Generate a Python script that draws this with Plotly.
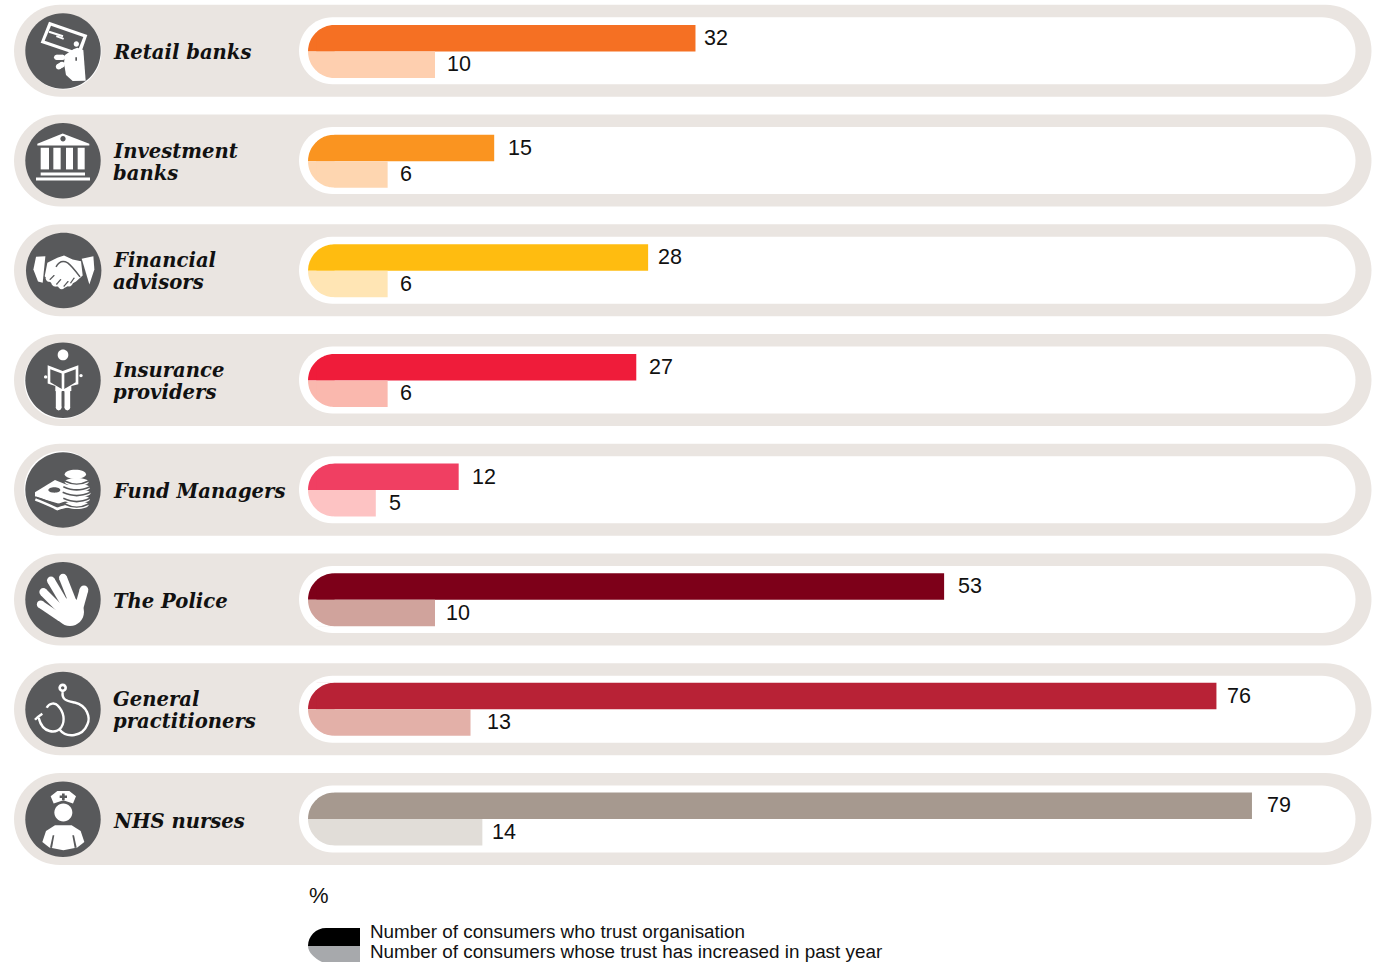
import math
import re
import plotly.graph_objects as go

W, H = 1375, 962

# Survey results, one entry per organisation type
categories = ["Retail banks", "Investment banks", "Financial advisors", "Insurance providers",
              "Fund Managers", "The Police", "General practitioners", "NHS nurses"]
name_lines = [["Retail banks"], ["Investment", "banks"], ["Financial", "advisors"],
              ["Insurance", "providers"], ["Fund Managers"], ["The Police"],
              ["General", "practitioners"], ["NHS nurses"]]
trust_values = [32, 15, 28, 27, 12, 53, 76, 79]
increase_values = [10, 6, 6, 6, 5, 10, 13, 14]
trust_colors = ["#F57023", "#FA9420", "#FFBC10", "#EF1C3A", "#F03F62", "#7D0019", "#B82236", "#A6998F"]
increase_colors = ["#FECFAF", "#FED6B0", "#FFE5B4", "#FAB8AE", "#FDC3C3", "#D0A39C", "#E3B0A8", "#E1DDD8"]
legend_labels = ["Number of consumers who trust organisation",
                 "Number of consumers whose trust has increased in past year"]

# Layout constants, in page pixels
ROW_TOP, ROW_PITCH = 50.8, 109.75
BAR_TOP, BAR_PITCH = 51.5, 109.64
ZERO_PX, UNIT_PX = 316.6, 11.84
BAR_THICK = 26.5
CAP_X0, CAP_X1 = 308.0, 334.5
PANEL_GREY, ICON_GREY = "#EAE5E1", "#58595B"
INK = "#111111"
trust_label_shift = [6.5, 11.8, 8.0, 10.7, 11.8, 11.4, 8.1, 13.5]
increase_label_shift = [9.5, 10.4, 10.4, 10.4, 11.0, 8.5, 14.5, 8.0]

rows = [ROW_TOP + i * ROW_PITCH for i in range(len(categories))]
bar_rows = [BAR_TOP + i * BAR_PITCH for i in range(len(categories))]
shapes, annotations = [], []


def to_paper(d):
    """Turn a path written in page pixels into paper coordinates."""
    out, pair = [], []
    for tok in re.findall(r"[MLCQZ]|-?\d+\.?\d*", d):
        if tok in "MLCQZ":
            out.append(tok)
        else:
            pair.append(float(tok))
            if len(pair) == 2:
                out.append(f"{pair[0] / W:.5f},{1 - pair[1] / H:.5f}")
                pair = []
    return " ".join(out)


def add_path(d, fill=None, line=None, width=0, layer="below"):
    shapes.append(dict(type="path", path=to_paper(d), xref="paper", yref="paper", layer=layer,
                       fillcolor=fill if fill else "rgba(0,0,0,0)",
                       line=dict(color=line if line else "rgba(0,0,0,0)", width=width)))


def rounded(x0, y0, x1, y1, r):
    k = r * 0.5523
    return (f"M {x0 + r} {y0} L {x1 - r} {y0} C {x1 - r + k} {y0} {x1} {y0 + r - k} {x1} {y0 + r} "
            f"L {x1} {y1 - r} C {x1} {y1 - r + k} {x1 - r + k} {y1} {x1 - r} {y1} "
            f"L {x0 + r} {y1} C {x0 + r - k} {y1} {x0} {y1 - r + k} {x0} {y1 - r} "
            f"L {x0} {y0 + r} C {x0} {y0 + r - k} {x0 + r - k} {y0} {x0 + r} {y0} Z")


def ellipse(cx, cy, rx, ry=None):
    ry = rx if ry is None else ry
    kx, ky = rx * 0.5523, ry * 0.5523
    return (f"M {cx - rx} {cy} C {cx - rx} {cy - ky} {cx - kx} {cy - ry} {cx} {cy - ry} "
            f"C {cx + kx} {cy - ry} {cx + rx} {cy - ky} {cx + rx} {cy} "
            f"C {cx + rx} {cy + ky} {cx + kx} {cy + ry} {cx} {cy + ry} "
            f"C {cx - kx} {cy + ry} {cx - rx} {cy + ky} {cx - rx} {cy} Z")


def corner_mask(mid, sign):
    """White wedge that trims a square bar corner back to the round cap."""
    r = CAP_X1 - CAP_X0
    inner = ZERO_PX - 0.6
    stop = math.acos((CAP_X1 - inner) / r)
    pts = [(inner, mid + sign * (r + 0.6)), (CAP_X1, mid + sign * (r + 0.6)), (CAP_X1, mid + sign * r)]
    for n in range(1, 17):
        a = math.pi / 2 - (math.pi / 2 - stop) * n / 16
        pts.append((CAP_X1 - r * math.cos(a), mid + sign * r * math.sin(a)))
    add_path("M " + " L ".join(f"{x:.2f} {y:.2f}" for x, y in pts) + " Z", fill="white", layer="above")


class Icon:
    """Glyph drawing in a 3x grid, placed on a page-pixel centre."""

    def __init__(self, cx, cy, ox, oy):
        self.cx, self.cy, self.ox, self.oy = cx, cy, ox, oy

    def pt(self, x, y):
        return self.cx + (x - self.ox) / 3, self.cy + (y - self.oy) / 3

    def poly(self, pts, fill="white"):
        p = [self.pt(*q) for q in pts]
        add_path("M " + " L ".join(f"{a:.2f} {b:.2f}" for a, b in p) + " Z", fill=fill, layer="above")

    def dot(self, x, y, rx, ry=None, fill="white"):
        a, b = self.pt(x, y)
        add_path(ellipse(a, b, rx / 3, None if ry is None else ry / 3), fill=fill, layer="above")

    def capsule(self, p, q, w, fill="white"):
        (x0, y0), (x1, y1) = p, q
        dx, dy = x1 - x0, y1 - y0
        n = (dx * dx + dy * dy) ** 0.5
        nx, ny = -dy / n * w / 2, dx / n * w / 2
        self.poly([(x0 + nx, y0 + ny), (x1 + nx, y1 + ny), (x1 - nx, y1 - ny), (x0 - nx, y0 - ny)], fill)
        self.dot(x0, y0, w / 2, fill=fill)
        self.dot(x1, y1, w / 2, fill=fill)

    def curve(self, nums, w=2.4, colour="white"):
        # nums: start point then cubic segments, each three points
        p = [self.pt(nums[i], nums[i + 1]) for i in range(0, len(nums), 2)]
        d = f"M {p[0][0]:.2f} {p[0][1]:.2f}"
        for i in range(1, len(p), 3):
            d += " C " + " ".join(f"{a:.2f} {b:.2f}" for a, b in p[i:i + 3])
        add_path(d, line=colour, width=w, layer="above")


def draw_card_hand(g):
    g.poly([(147, 65), (262, 105), (240, 168), (122, 128)])
    g.poly([(153, 77), (250, 111), (232, 156), (134, 122)], ICON_GREY)
    g.poly([(148, 92), (190, 106), (188, 112), (146, 98)])
    g.poly([(170, 106), (192, 114), (190, 119), (168, 111)])
    g.dot(229, 132, 8)
    g.poly([(195, 165), (220, 148), (232, 143), (250, 150), (257, 242), (218, 243), (198, 225), (192, 190)])
    g.poly([(226, 172), (231, 172), (231, 182), (226, 182)], ICON_GREY)
    g.capsule((170, 172), (188, 172), 16)
    g.capsule((176, 200), (186, 194), 17)


def draw_bank(g):
    g.poly([(112, 431), (188, 400), (268, 431), (268, 436), (112, 436)])
    g.dot(189, 416, 8, fill=ICON_GREY)
    for x0, x1 in [(122, 147), (160, 182), (198, 219), (233, 254)]:
        g.poly([(x0, 443), (x1, 443), (x1, 508), (x0, 508)])
    g.poly([(122, 517), (255, 517), (255, 526), (122, 526)])
    g.poly([(108, 532), (270, 532), (270, 541), (108, 541)])


def draw_handshake(g):
    g.poly([(100, 150), (108, 112), (136, 110), (128, 190), (114, 186)])
    g.poly([(245, 118), (280, 110), (283, 150), (268, 195)])
    g.poly([(142, 130), (172, 115), (192, 108), (218, 120), (243, 125), (248, 168), (228, 186), (196, 204),
            (165, 200), (146, 184), (134, 170)])
    for x, y in [(148, 176), (165, 190), (185, 198), (207, 190)]:
        g.dot(x, y, 11)
    # creases between thumb and fingers
    g.curve([168, 142, 178, 124, 192, 124, 203, 130, 214, 138, 228, 156, 240, 172], w=1.5, colour=ICON_GREY)
    for p, q in [((150, 180), (162, 168)), ((170, 194), (182, 180)), ((192, 200), (204, 186)), ((212, 190), (222, 176))]:
        g.capsule(p, q, 3.5, ICON_GREY)


def draw_reader(g):
    g.dot(189, 404, 16)
    g.poly([(143, 435), (188, 452), (235, 435), (235, 492), (214, 497), (214, 512), (166, 512), (166, 497), (143, 490)])
    g.poly([(151, 447), (185, 460), (185, 506), (151, 486)], ICON_GREY)
    g.poly([(227, 447), (193, 460), (193, 506), (227, 486)], ICON_GREY)
    g.capsule((176, 512), (176, 562), 17)
    g.capsule((202, 512), (202, 562), 17)
    g.dot(137, 470, 5)
    g.dot(243, 466, 5)


def draw_money(g):
    g.poly([(105, 157), (165, 120), (215, 140), (215, 178), (180, 192), (105, 170)])
    g.dot(163, 150, 18, 8, fill=ICON_GREY)
    g.curve([105, 172, 130, 180, 150, 188, 172, 196, 190, 188, 200, 186, 215, 182], w=2.2, colour=ICON_GREY)
    g.curve([106, 178, 130, 188, 150, 196, 172, 207, 190, 200, 205, 196, 225, 198], w=2.6)
    for y, rx in [(195, 36), (178, 40), (160, 42), (143, 40), (126, 36)]:
        g.dot(230, y, rx, 12)
        g.curve([230 - rx, y - 3, 220, y + 10, 240, y + 10, 230 + rx, y - 3], w=1.6, colour=ICON_GREY)
    g.dot(226, 103, 32, 14)


def draw_palm(g):
    g.capsule((122, 492), (182, 532), 23)
    g.capsule((130, 455), (190, 515), 24)
    g.capsule((153, 420), (200, 500), 24)
    g.capsule((189, 412), (222, 495), 24)
    g.capsule((252, 448), (232, 520), 26)
    g.dot(210, 515, 42)


def draw_stethoscope(g):
    g.dot(188, 742, 13)
    g.dot(188, 742, 5, fill=ICON_GREY)
    g.curve([188, 755, 184, 780, 205, 782, 224, 786, 262, 795, 272, 832, 262, 852, 248, 888, 200, 895, 178, 866])
    g.curve([140, 802, 148, 786, 166, 786, 174, 796, 192, 814, 196, 842, 184, 860, 168, 880, 128, 880, 116, 832])
    g.curve([105, 838, 110, 832, 118, 826, 127, 820])


def draw_nurse(g):
    g.poly([(152, 1068), (172, 1052), (208, 1052), (228, 1068), (219, 1090), (190, 1080), (161, 1090)])
    g.poly([(186, 1060), (194, 1060), (194, 1066), (201, 1066), (201, 1073), (194, 1073), (194, 1079), (186, 1079),
            (186, 1073), (179, 1073), (179, 1066), (186, 1066)], ICON_GREY)
    g.dot(190, 1117, 27)
    g.poly([(127, 1205), (138, 1172), (165, 1155), (215, 1155), (242, 1172), (253, 1205), (232, 1222), (190, 1230),
            (148, 1222)])
    g.poly([(158, 1185), (163, 1185), (156, 1223), (150, 1222)], ICON_GREY)
    g.poly([(222, 1185), (217, 1185), (224, 1223), (230, 1222)], ICON_GREY)


icon_specs = [
    (draw_card_hand, 189, 153, (0.7, 0.7)), (draw_bank, 189, 482, None), (draw_handshake, 191, 153, None),
    (draw_reader, 189, 480, (-0.9, 1.0)), (draw_money, 189, 150, (-1.0, -1.2)), (draw_palm, 189, 478, None),
    (draw_stethoscope, 189, 807, None), (draw_nurse, 189, 1137, None),
]

for i, c in enumerate(rows):
    # Grey pill with its white track
    add_path(rounded(14, c - 46, 1371.5, c + 46, 46), fill=PANEL_GREY)
    add_path(rounded(299, c - 33.5, 1355.5, c + 33.5, 33.5), fill="white")

    # Rounded start of the two stacked bars: fill underneath, white corners on top
    mid = bar_rows[i]
    r = CAP_X1 - CAP_X0
    k = r * 0.5523
    top, bot = mid - r, mid + r
    add_path(f"M {CAP_X1} {top} C {CAP_X1 - k} {top} {CAP_X0} {mid - k} {CAP_X0} {mid} L {CAP_X1} {mid} Z",
             fill=trust_colors[i])
    add_path(f"M {CAP_X1} {bot} C {CAP_X1 - k} {bot} {CAP_X0} {mid + k} {CAP_X0} {mid} L {CAP_X1} {mid} Z",
             fill=increase_colors[i])
    corner_mask(mid, -1)
    corner_mask(mid, 1)

    # Icon disc
    draw, ox, oy, halo = icon_specs[i]
    cx = 63.7 if i == 2 else 63.0
    cy = c + 0.2
    if halo:
        add_path(ellipse(cx + halo[0], cy + halo[1], 37.7), fill="white", layer="above")
    add_path(ellipse(cx, cy, 37.7), fill=ICON_GREY, layer="above")
    draw(Icon(cx, cy, ox, oy))

    # Organisation name, one annotation per line for tight leading
    lines = name_lines[i]
    for j, text in enumerate(lines):
        offset = 2.0 if len(lines) == 1 else (-9.4 if j == 0 else 12.6)
        annotations.append(dict(
            text=text, x=111 / W, y=1 - (c + offset) / H, xref="paper", yref="paper",
            xanchor="left", yanchor="middle", showarrow=False,
            font=dict(family="DejaVu Serif", size=19.6, color=INK, weight="bold", style="italic")))

    # Value labels beside the bar ends
    for value, dy, shift in ((trust_values[i], -13.5, trust_label_shift[i]),
                             (increase_values[i], 13.0, increase_label_shift[i])):
        annotations.append(dict(
            text=str(value), x=value, xref="x", xshift=shift, y=1 - (mid + dy) / H, yref="paper",
            xanchor="left", yanchor="middle", showarrow=False,
            font=dict(family="Liberation Sans", size=21.5, color=INK)))

# Unit and key
annotations.append(dict(text="%", x=307 / W, y=1 - 895.5 / H, xref="paper", yref="paper", xanchor="left",
                        yanchor="middle", showarrow=False,
                        font=dict(family="Liberation Sans", size=22, color=INK)))
add_path("M 360 928 L 326 928 C 316 928 308 936 308 946 L 360 946 Z", fill="#000000", layer="above")
add_path("M 360 962 L 322 962 C 314 958 308 952 308 946 L 360 946 Z", fill="#A7A9AC", layer="above")
for text, y in zip(legend_labels, (931, 951)):
    annotations.append(dict(text=text, x=368 / W, y=1 - y / H, xref="paper", yref="paper", xanchor="left",
                            yanchor="middle", showarrow=False,
                            font=dict(family="Liberation Sans", size=18.85, color=INK)))

fig = go.Figure()
bar_share = BAR_THICK / BAR_PITCH
fig.add_bar(y=categories, x=trust_values, orientation="h", marker=dict(color=trust_colors, line_width=0),
            name=legend_labels[0], hoverinfo="x+y")
fig.add_bar(y=categories, x=increase_values, orientation="h", marker=dict(color=increase_colors, line_width=0),
            name=legend_labels[1], hoverinfo="x+y")
fig.update_layout(
    width=W, height=H, margin=dict(l=0, r=0, t=0, b=0), paper_bgcolor="white", plot_bgcolor="rgba(0,0,0,0)",
    barmode="group", bargap=1 - 2 * bar_share, bargroupgap=0, showlegend=False,
    xaxis=dict(range=[-ZERO_PX / UNIT_PX, (W - ZERO_PX) / UNIT_PX], visible=False, fixedrange=True),
    yaxis=dict(type="category", categoryorder="array", categoryarray=categories,
               range=[(H - BAR_TOP) / BAR_PITCH, -BAR_TOP / BAR_PITCH], visible=False, fixedrange=True),
    shapes=shapes, annotations=annotations,
)
fig.write_html("out.html", config={"displayModeBar": False})
